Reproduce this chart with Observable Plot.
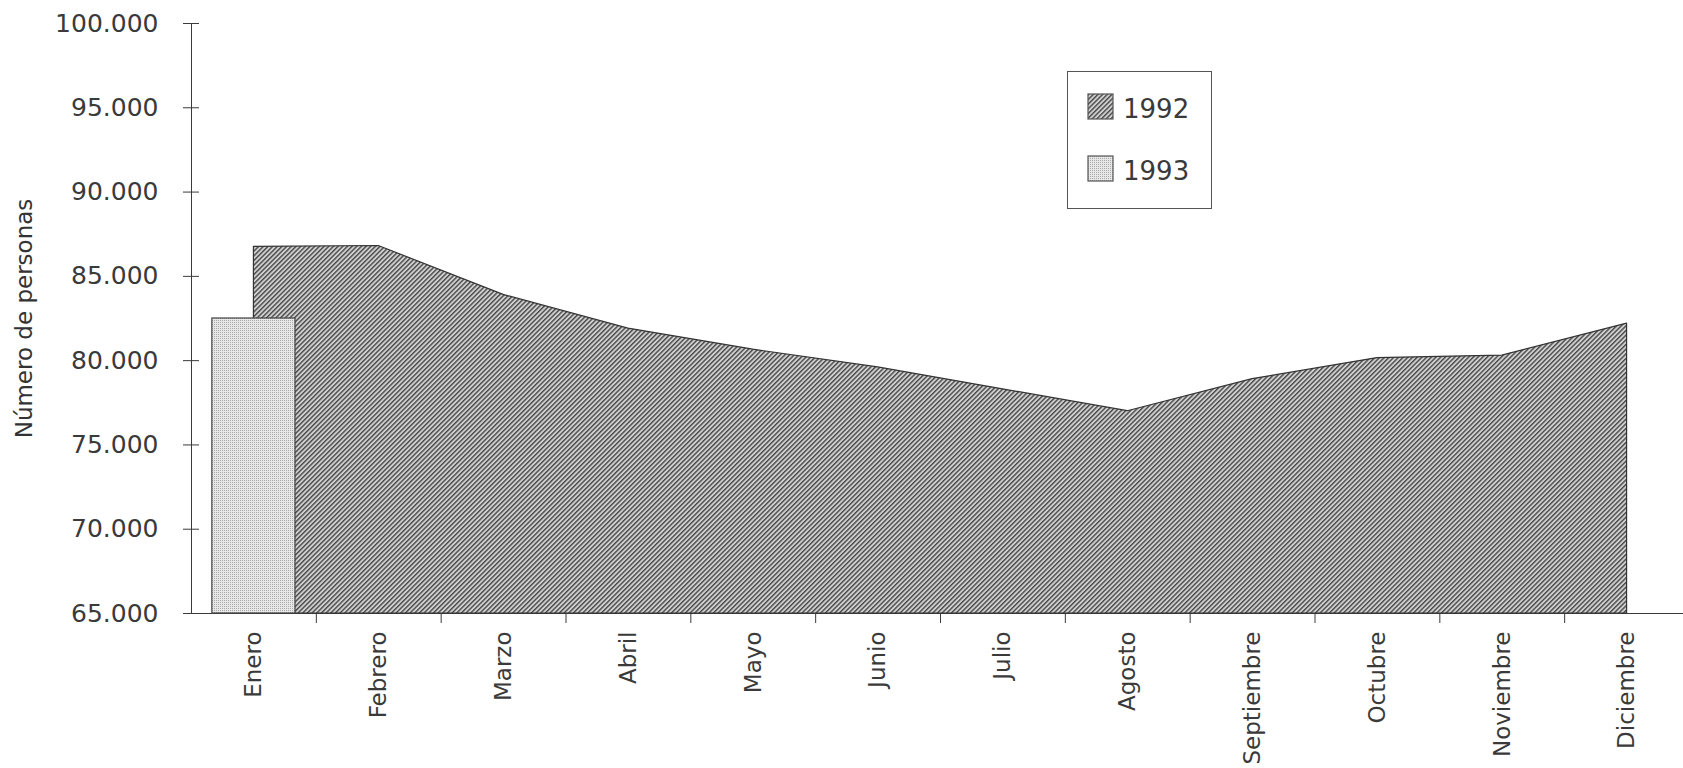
<!DOCTYPE html>
<html><head><meta charset="utf-8">
<script src="https://cdn.jsdelivr.net/npm/d3@7"></script>
<script src="https://cdn.jsdelivr.net/npm/@observablehq/plot@0.6"></script>
<style>
html,body{margin:0;padding:0;background:#fff;}
#wrap{position:relative;width:1683px;height:768px;overflow:hidden;}
#legend{position:absolute;left:1067px;top:71px;width:145px;height:138px;border:1.5px solid #555;box-sizing:border-box;background:#fff;}
</style></head><body>
<div id="wrap"><div id="chart"></div><div id="legend"></div></div>
<script>
// ---- data ----
const months = ["Enero","Febrero","Marzo","Abril","Mayo","Junio","Julio","Agosto","Septiembre","Octubre","Noviembre","Diciembre"];
const values1992 = [86750, 86800, 83900, 81900, 80650, 79600, 78300, 77000, 78900, 80150, 80300, 82200];
const months1993 = ["Enero"];
const values1993 = [82500];
const yTicks = [65000, 70000, 75000, 80000, 85000, 90000, 95000, 100000];
const seriesNames = ["1992", "1993"];
const yLabel = "Número de personas";

const d92 = months.map((m, i) => ({i, m, v: values1992[i]}));
const d93 = months1993.map((m, j) => ({i: months.indexOf(m), m, v: values1993[j]}));
const fmt = d => d3.format(",")(d).replace(/,/g, ".");
const ink = "#3a3a3a";

const chart = Plot.plot({
  width: 1683,
  height: 768,
  marginLeft: 191,
  marginRight: 0,
  marginTop: 23,
  marginBottom: 155,
  style: {fontFamily: "DejaVu Sans, sans-serif", fontSize: "25px", color: ink, background: "transparent"},
  x: {domain: [-0.5, 11.5], range: [191, 1689], ticks: d3.range(0.5, 11, 1), tickFormat: () => "", tickSize: 10, line: true, label: null},
  y: {domain: [65000, 100000], ticks: yTicks, tickFormat: fmt, tickSize: 8, tickPadding: 25, line: true, label: null},
  marks: [
    Plot.areaY(d92, {x: "i", y1: 65000, y2: "v", fill: "#888", stroke: "#333", strokeWidth: 1.2}),
    Plot.rectY(d93, {x1: d => d.i - 0.333, x2: d => d.i + 0.333, y1: 65000, y2: "v", fill: "#dedede", stroke: "#444", strokeWidth: 1.2}),
    Plot.text(months, {x: (d, i) => i, y: 65000, dy: 18, rotate: -90, textAnchor: "end", fill: ink, fontSize: 23}),
    Plot.text([yLabel], {frameAnchor: "left", dx: -167, rotate: -90, textAnchor: "middle", fill: "#333", fontSize: 23})
  ]
});

// patterns
const svg = d3.select(chart);
svg.insert("defs", ":first-child").html(`
  <pattern id="hatch92" patternUnits="userSpaceOnUse" width="3.3" height="3.3" patternTransform="rotate(45)">
    <rect width="3.3" height="3.3" fill="#d0d0d0"/><rect width="1.4" height="3.3" fill="#484848"/>
  </pattern>
  <pattern id="dots93" patternUnits="userSpaceOnUse" width="2" height="2">
    <rect width="2" height="2" fill="#e8e8e8"/><rect width="1" height="1" fill="#a8a8a8"/>
  </pattern>`);
svg.selectAll('g[aria-label="area"] path').attr("fill", "url(#hatch92)");
svg.selectAll('g[aria-label="rect"] rect').attr("fill", "url(#dots93)");

// y ticks cross the axis line
svg.selectAll('[aria-label="y-axis"] .tick line').attr("x1", 8);
svg.selectAll('[aria-label="y-axis tick"] path').attr("d", "M8,0L-8,0");
svg.selectAll('[aria-label="y-axis"] path.domain, [aria-label="x-axis"] path.domain').attr("stroke", "#555").attr("stroke-width", 1.5);
svg.selectAll('.tick line').attr("stroke", "#555").attr("stroke-width", 1.5);

document.getElementById("chart").appendChild(chart);

// legend (HTML overlay)
const lg = d3.select("#legend").append("svg").attr("width", 142).attr("height", 135);
lg.append("defs").html(`
  <pattern id="lhatch" patternUnits="userSpaceOnUse" width="3.3" height="3.3" patternTransform="rotate(45)">
    <rect width="3.3" height="3.3" fill="#d0d0d0"/><rect width="1.4" height="3.3" fill="#484848"/>
  </pattern>
  <pattern id="ldots" patternUnits="userSpaceOnUse" width="2" height="2">
    <rect width="2" height="2" fill="#e8e8e8"/><rect width="1" height="1" fill="#a8a8a8"/>
  </pattern>`);
const fills = ["url(#lhatch)", "url(#ldots)"];
seriesNames.forEach((name, k) => {
  const top = 22 + k * 62;
  lg.append("rect").attr("x", 20).attr("y", top).attr("width", 25).attr("height", 25)
    .attr("fill", fills[k]).attr("stroke", "#555").attr("stroke-width", 1.2);
  lg.append("text").attr("x", 55).attr("y", top + 24).attr("fill", ink)
    .style("font-family", "DejaVu Sans, sans-serif").style("font-size", "26px").text(name);
});
</script>
</body></html>
